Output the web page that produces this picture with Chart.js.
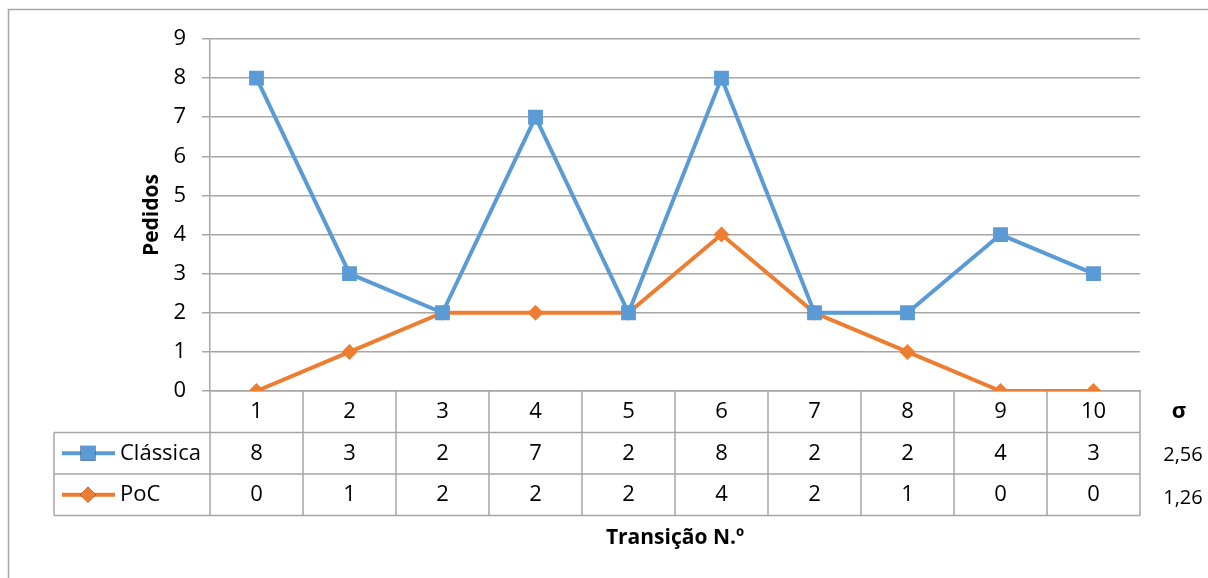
<!DOCTYPE html>
<html>
<head>
<meta charset="utf-8">
<script src="https://cdn.jsdelivr.net/npm/chart.js@4.4.1/dist/chart.umd.min.js"></script>
<style>
  html, body { margin: 0; padding: 0; background: #fff; }
</style>
</head>
<body>
<canvas id="myChart" width="1208" height="578"></canvas>
<script>
// dados
const transicoes = ['1', '2', '3', '4', '5', '6', '7', '8', '9', '10'];
const classica = [8, 3, 2, 7, 2, 8, 2, 2, 4, 3];
const poc = [0, 1, 2, 2, 2, 4, 2, 1, 0, 0];
const desvios = [2.56, 1.26];

const azul = '#5B9BD5';
const laranja = '#ED7D31';
const cinza = '#a6a6a6';
const fonte = "'Open Sans', sans-serif";

// moldura do gráfico (topo e esquerda)
const moldura = {
  id: 'moldura',
  beforeDraw(chart) {
    const ctx = chart.ctx;
    ctx.save();
    ctx.strokeStyle = '#a6a6a6';
    ctx.lineWidth = 1.5;
    ctx.beginPath();
    ctx.moveTo(8.5, chart.height);
    ctx.lineTo(8.5, 9.5);
    ctx.lineTo(chart.width, 9.5);
    ctx.stroke();
    ctx.restore();
  }
};

// tabela de dados por baixo do eixo x
const tabela = {
  id: 'tabela',
  afterDraw(chart) {
    const { ctx, chartArea, scales: { x } } = chart;
    const rowH = 41.5;
    const top = chartArea.bottom;
    const left = chartArea.left;
    const right = chartArea.right;
    const tableLeft = 54;
    const cellW = (right - left) / transicoes.length;

    ctx.save();
    ctx.strokeStyle = cinza;
    ctx.lineWidth = 1.5;
    ctx.beginPath();
    // linhas verticais
    for (let i = 0; i <= transicoes.length; i++) {
      const xx = left + i * cellW;
      ctx.moveTo(xx, top);
      ctx.lineTo(xx, top + 3 * rowH);
    }
    ctx.moveTo(tableLeft, top + rowH);
    ctx.lineTo(tableLeft, top + 3 * rowH);
    // linhas horizontais
    for (let r = 1; r <= 3; r++) {
      ctx.moveTo(tableLeft, top + r * rowH);
      ctx.lineTo(right, top + r * rowH);
    }
    ctx.stroke();

    // linhas das séries
    chart.data.datasets.forEach((ds, r) => {
      const cy = top + (r + 1.5) * rowH;
      // legenda
      ctx.strokeStyle = ds.borderColor;
      ctx.lineWidth = ds.borderWidth;
      ctx.beginPath();
      ctx.moveTo(62, cy);
      ctx.lineTo(115, cy);
      ctx.stroke();
      Chart.helpers.drawPoint(ctx, {
        pointStyle: ds.pointStyle,
        radius: ds.pointRadius,
        borderWidth: 0
      }, 88, cy);
      ctx.fillStyle = ds.backgroundColor;
      ctx.fill();

      ctx.fillStyle = '#000';
      ctx.font = '22px ' + fonte;
      ctx.textBaseline = 'middle';
      ctx.textAlign = 'left';
      ctx.fillText(ds.label, 120, cy);

      // valores
      ctx.textAlign = 'center';
      ds.data.forEach((v, i) => {
        ctx.fillText(String(v), x.getPixelForValue(i), cy);
      });

      // desvio padrão
      ctx.font = '20px ' + fonte;
      ctx.fillText(desvios[r].toFixed(2).replace('.', ','), 1183, cy + 2 + r * 2);
    });

    ctx.font = 'bold 22px ' + fonte;
    ctx.fillText('σ', 1179, top + rowH / 2);
    ctx.restore();
  }
};

new Chart(document.getElementById('myChart'), {
  type: 'line',
  data: {
    labels: transicoes,
    datasets: [
      {
        label: 'Clássica',
        data: classica,
        borderColor: azul,
        backgroundColor: azul,
        borderWidth: 4,
        pointStyle: 'rect',
        pointRadius: 10.5,
        pointHoverRadius: 10.5,
        pointBorderWidth: 0,
        tension: 0
      },
      {
        label: 'PoC',
        data: poc,
        borderColor: laranja,
        backgroundColor: laranja,
        borderWidth: 4,
        pointStyle: 'rectRot',
        pointRadius: 8,
        pointHoverRadius: 8,
        pointBorderWidth: 0,
        tension: 0
      }
    ]
  },
  options: {
    responsive: false,
    animation: false,
    devicePixelRatio: 1,
    layout: { padding: { left: 0, top: 39, right: 68, bottom: 0 } },
    plugins: {
      legend: { display: false },
      tooltip: { enabled: false }
    },
    scales: {
      x: {
        offset: true,
        afterFit(scale) { scale.height = 187; },
        grid: { display: false, drawTicks: false },
        border: { display: true, color: cinza, width: 1.5 },
        ticks: {
          padding: 8,
          color: '#000',
          font: { family: fonte, size: 22 }
        },
        title: {
          display: true,
          text: 'Transição N.º',
          color: '#000',
          font: { family: fonte, size: 21, weight: 'bold' },
          padding: { top: 0, bottom: 27 }
        }
      },
      y: {
        min: 0,
        max: 9,
        afterFit(scale) { scale.width = 210; },
        grid: { color: cinza, lineWidth: 1.5, tickLength: 8 },
        border: { display: true, color: cinza, width: 1.5 },
        ticks: {
          stepSize: 1,
          padding: 16,
          color: '#000',
          font: { family: fonte, size: 22 }
        },
        title: {
          display: true,
          text: 'Pedidos',
          color: '#000',
          font: { family: fonte, size: 21, weight: 'bold' },
          padding: { top: 139, bottom: 0 }
        }
      }
    }
  },
  plugins: [moldura, tabela]
});
</script>
</body>
</html>
